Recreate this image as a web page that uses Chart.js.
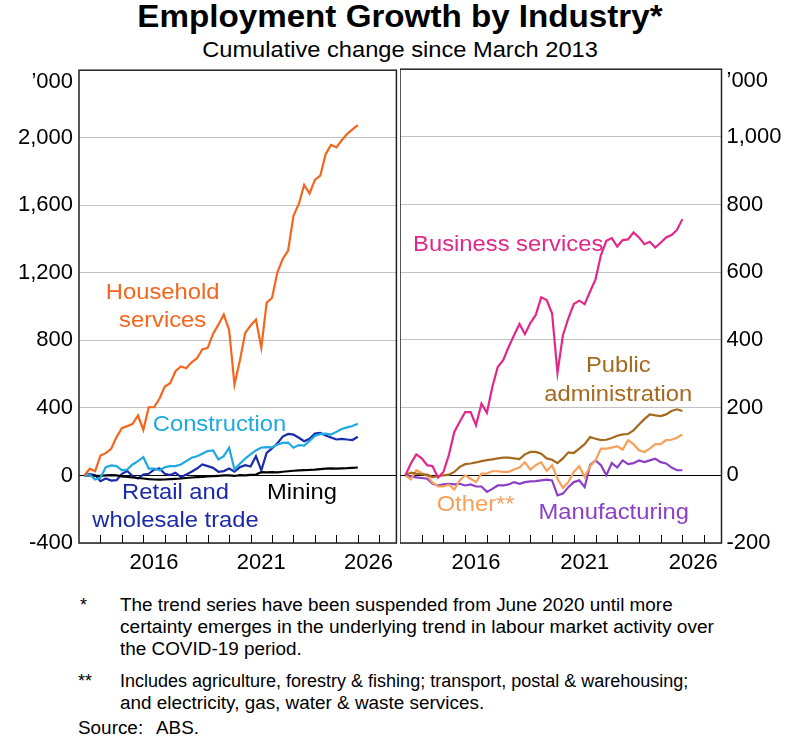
<!DOCTYPE html>
<html>
<head>
<meta charset="utf-8">
<title>Employment Growth by Industry</title>
<script src="https://cdn.jsdelivr.net/npm/chart.js@4.4.1/dist/chart.umd.min.js"></script>
<style>
  body { margin: 0; background: #fff; }
  #page {
    position: relative;
    width: 800px;
    height: 738px;
    overflow: hidden;
    font-family: "Liberation Sans", Arial, sans-serif;
    color: #000;
  }
  .title { position: absolute; left: 0; width: 800px; top: -1px; text-align: center; font-size: 31px; font-weight: bold; transform: scaleX(1.07); }
  .subtitle { position: absolute; left: 0; width: 800px; top: 37px; text-align: center; font-size: 22px; transform: scaleX(1.075); }
  .panel { position: absolute; top: 51px; width: 400px; height: 539px; }
  .note { position: absolute; font-size: 18px; line-height: 22px; transform-origin: left top; white-space: nowrap; }
</style>
</head>
<body>
<div id="page">
  <div class="title">Employment Growth by Industry*</div>
  <div class="subtitle">Cumulative change since March 2013</div>
  <div class="panel" style="left:0"><canvas id="leftChart"></canvas></div>
  <div class="panel" style="left:400px"><canvas id="rightChart"></canvas></div>

  <div class="note" style="left:80px; top:594px">*</div>
  <div class="note" style="left:120px; top:594px; transform:scaleX(1.05)">The trend series have been suspended from June 2020 until more</div>
  <div class="note" style="left:120px; top:616px; transform:scaleX(1.06)">certainty emerges in the underlying trend in labour market activity over</div>
  <div class="note" style="left:120px; top:638px; transform:scaleX(1.05)">the COVID-19 period.</div>
  <div class="note" style="left:78px; top:670px">**</div>
  <div class="note" style="left:120px; top:670px; transform:scaleX(1.0)">Includes agriculture, forestry &amp; fishing; transport, postal &amp; warehousing;</div>
  <div class="note" style="left:120px; top:692px; transform:scaleX(1.05)">and electricity, gas, water &amp; waste services.</div>
  <div class="note" style="left:78px; top:717px; transform:scaleX(1.05)">Source:</div>
  <div class="note" style="left:156px; top:717px; transform:scaleX(1.05)">ABS.</div>
</div>

<script>
const FONT = '"Liberation Sans", Arial, sans-serif';

/*=============== DATA ===============*/
const quarters = [
  "Mar-2013", "Jun-2013", "Sep-2013", "Dec-2013",
  "Mar-2014", "Jun-2014", "Sep-2014", "Dec-2014",
  "Mar-2015", "Jun-2015", "Sep-2015", "Dec-2015",
  "Mar-2016", "Jun-2016", "Sep-2016", "Dec-2016",
  "Mar-2017", "Jun-2017", "Sep-2017", "Dec-2017",
  "Mar-2018", "Jun-2018", "Sep-2018", "Dec-2018",
  "Mar-2019", "Jun-2019", "Sep-2019", "Dec-2019",
  "Mar-2020", "Jun-2020", "Sep-2020", "Dec-2020",
  "Mar-2021", "Jun-2021", "Sep-2021", "Dec-2021",
  "Mar-2022", "Jun-2022", "Sep-2022", "Dec-2022",
  "Mar-2023", "Jun-2023", "Sep-2023", "Dec-2023",
  "Mar-2024", "Jun-2024", "Sep-2024", "Dec-2024",
  "Mar-2025", "Jun-2025", "Sep-2025", "Dec-2025",
];

// left panel, '000
const householdServices = [0, 40, 25, 118, 132, 158, 227, 280, 292, 306, 355, 270, 404, 404, 454, 527, 546, 617, 645, 635, 670, 694, 747, 756, 838, 893, 953, 862, 538, 680, 844, 888, 923, 756, 1024, 1051, 1203, 1282, 1331, 1538, 1608, 1720, 1670, 1750, 1775, 1903, 1958, 1943, 1985, 2022, 2050, 2075];
const construction = [0, 6, -24, -14, 49, 59, 55, 30, 35, 65, 85, 108, 41, 41, 30, 49, 55, 55, 65, 85, 105, 114, 128, 144, 148, 95, 114, 164, 35, 69, 100, 125, 148, 165, 168, 166, 183, 193, 195, 164, 180, 177, 205, 235, 245, 248, 242, 258, 275, 285, 293, 306];
const retailWholesale = [0, 10, 2, -34, -18, -30, -28, 10, 26, -4, -18, 6, 10, 35, 41, 10, 2, 16, -10, 6, 22, 41, 65, 55, 45, 22, 26, 41, 22, 49, 61, 53, 114, 30, 134, 160, 190, 230, 246, 242, 223, 203, 217, 248, 252, 237, 225, 213, 217, 213, 210, 229];
const mining = [0, 0, -2, -3, 0, 2, 0, -5, -8, -12, -15, -18, -22, -24, -25, -24, -22, -20, -18, -15, -12, -10, -8, -6, -4, -2, 0, 0, -3, 2, 0, 3, 5, 20, 18, 20, 18, 22, 25, 28, 30, 32, 33, 35, 38, 40, 42, 40, 42, 43, 45, 47];

// right panel, '000
const businessServices = [0, 35, 62, 50, 30, 27, -7, 10, 60, 128, 158, 187, 187, 148, 212, 185, 261, 320, 340, 379, 414, 447, 417, 450, 474, 526, 518, 479, 303, 414, 464, 506, 516, 506, 543, 579, 651, 693, 701, 676, 695, 697, 718, 703, 683, 690, 673, 687, 703, 710, 725, 757];
const publicAdministration = [0, 8, 5, 3, 2, -5, -2, 0, 2, 10, 25, 33, 35, 38, 42, 45, 47, 50, 52, 52, 50, 48, 62, 69, 69, 64, 50, 46, 36, 50, 68, 66, 79, 92, 113, 108, 104, 105, 110, 117, 121, 122, 133, 150, 166, 180, 177, 175, 180, 190, 195, 190];
const otherIndustries = [0, -12, 15, 7, -2, -22, -33, -33, -28, -42, -15, 0, -10, -20, 5, 5, 12, 12, 10, 10, 17, 23, 39, 17, 30, 39, 13, 30, -10, -37, -20, 10, 27, -5, 27, 44, 79, 79, 82, 86, 76, 104, 92, 74, 69, 79, 92, 92, 104, 105, 111, 121];
const manufacturing = [0, -3, -6, -8, -10, -25, -30, -27, -25, -27, -25, -30, -27, -33, -33, -49, -40, -30, -30, -27, -20, -25, -20, -18, -17, -15, -13, -15, -59, -54, -35, -20, -15, -35, 30, 44, 30, 0, 36, 23, 44, 33, 36, 44, 39, 44, 49, 39, 35, 23, 15, 15];

const leftTicks = [-400, 0, 400, 800, 1200, 1600, 2000];
const rightTicks = [-200, 0, 200, 400, 600, 800, 1000];
const yearLabels = [2016, 2021, 2026];
const tickYears = [2014, 2015, 2016, 2017, 2018, 2019, 2020, 2021, 2022, 2023, 2024, 2025, 2026, 2027];

/*=============== HELPERS ===============*/
const monthNum = { Mar: 3, Jun: 6, Sep: 9, Dec: 12 };

function quarterToYear(q) {
  const [m, y] = q.split("-");
  return Number(y) + monthNum[m] / 12;
}

function toPoints(values) {
  return values.map((v, i) => ({ x: quarterToYear(quarters[i]), y: v }));
}

function line(label, values, color) {
  return {
    label: label,
    data: toPoints(values),
    borderColor: color,
    borderWidth: 2.2,
    pointRadius: 0,
    fill: false,
    tension: 0,
  };
}

/*=============== PANEL DECORATION ===============*/
// year tick marks, frame, unit label and the series names
const panelDecor = {
  id: "panelDecor",
  afterDatasetsDraw(chart, args, opts) {
    const { ctx, chartArea: a, scales } = chart;
    ctx.save();

    ctx.strokeStyle = "#000";
    ctx.lineWidth = 1;
    tickYears.forEach((yr) => {
      const px = Math.round(scales.x.getPixelForValue(yr)) + 0.5;
      ctx.beginPath();
      ctx.moveTo(px, a.bottom);
      ctx.lineTo(px, a.bottom - 8);
      ctx.stroke();
    });

    ctx.strokeStyle = "#222";
    ctx.lineWidth = 1.5;
    ctx.strokeRect(a.left, a.top, a.right - a.left, a.bottom - a.top);

    ctx.font = "22px " + FONT;
    ctx.fillStyle = "#000";
    ctx.textBaseline = "middle";
    if (opts.side === "left") {
      ctx.textAlign = "right";
      ctx.fillText("\u2019000", a.left - 6, a.top + 12);
    } else {
      ctx.textAlign = "left";
      ctx.fillText("\u2019000", a.right + 5, a.top + 12);
    }

    // series names, a little wider like the original lettering
    ctx.textAlign = "center";
    opts.labels.forEach((l) => {
      ctx.fillStyle = l.color;
      const px = scales.x.getPixelForValue(l.x);
      l.lines.forEach((t, k) => {
        ctx.save();
        ctx.translate(px, scales.y.getPixelForValue(l.y[k]));
        ctx.scale(1.08, 1);
        ctx.fillText(t, 0, 0);
        ctx.restore();
      });
    });

    ctx.restore();
  },
};

/*=============== CHARTS ===============*/
function createPanel(canvasId, side, yMin, yMax, yTicks, datasets, labels) {
  const ctx = document.getElementById(canvasId).getContext("2d");
  return new Chart(ctx, {
    type: "line",
    data: { datasets: datasets },
    plugins: [panelDecor],
    options: {
      responsive: true,
      maintainAspectRatio: false,
      animation: false,
      layout: { padding: { top: 9, left: 0, right: 0, bottom: 0 } },
      plugins: {
        legend: { display: false },
        tooltip: { enabled: false },
        panelDecor: { side: side, labels: labels },
      },
      scales: {
        x: {
          type: "linear",
          min: 2013,
          max: 2027.8,
          afterBuildTicks: (axis) => {
            axis.ticks = yearLabels.map((y) => ({ value: y + 0.5 }));
          },
          afterFit: (axis) => {
            axis.height = 47;
          },
          ticks: {
            autoSkip: false,
            maxRotation: 0,
            padding: 7,
            color: "#000",
            font: { family: FONT, size: 22 },
            callback: (v) => String(Math.floor(v)),
          },
          grid: { display: false, drawTicks: false },
          border: { display: false },
        },
        y: {
          position: side,
          min: yMin,
          max: yMax,
          afterBuildTicks: (axis) => {
            axis.ticks = yTicks.map((v) => ({ value: v }));
          },
          afterFit: (axis) => {
            axis.width = side === "left" ? 79 : 78.5;
          },
          ticks: {
            padding: side === "left" ? 6 : 5,
            color: "#000",
            font: { family: FONT, size: 22 },
            callback: (v) => v.toLocaleString("en-US"),
          },
          grid: {
            drawTicks: false,
            lineWidth: 1,
            color: (c) => (c.tick && c.tick.value === 0 ? "#000" : "#c2c2c2"),
          },
          border: { display: false },
        },
      },
    },
  });
}

const leftChart = createPanel(
  "leftChart", "left", -400, 2400, leftTicks,
  [
    line("Household services", householdServices, "#f4661b"),
    line("Construction", construction, "#1ea9e1"),
    line("Mining", mining, "#000000"),
    line("Retail and wholesale trade", retailWholesale, "#1b2aa8"),
  ],
  [
    { lines: ["Household", "services"], x: 2016.9, y: [1080, 915], color: "#f4661b" },
    { lines: ["Construction"], x: 2019.55, y: [297], color: "#1ea9e1" },
    { lines: ["Retail and", "wholesale trade"], x: 2017.5, y: [-105, -270], color: "#1b2aa8" },
    { lines: ["Mining"], x: 2023.4, y: [-105], color: "#000000" },
  ]
);

const rightChart = createPanel(
  "rightChart", "right", -200, 1200, rightTicks,
  [
    line("Business services", businessServices, "#e2278b"),
    line("Public administration", publicAdministration, "#a5691d"),
    line("Other**", otherIndustries, "#f6a059"),
    line("Manufacturing", manufacturing, "#8c3fc6"),
  ],
  [
    { lines: ["Business services"], x: 2017.98, y: [680], color: "#e2278b" },
    { lines: ["Public", "administration"], x: 2023.05, y: [323, 237], color: "#a5691d" },
    { lines: ["Other**"], x: 2016.48, y: [-88], color: "#f6a059" },
    { lines: ["Manufacturing"], x: 2022.84, y: [-111], color: "#8c3fc6" },
  ]
);
</script>
</body>
</html>
